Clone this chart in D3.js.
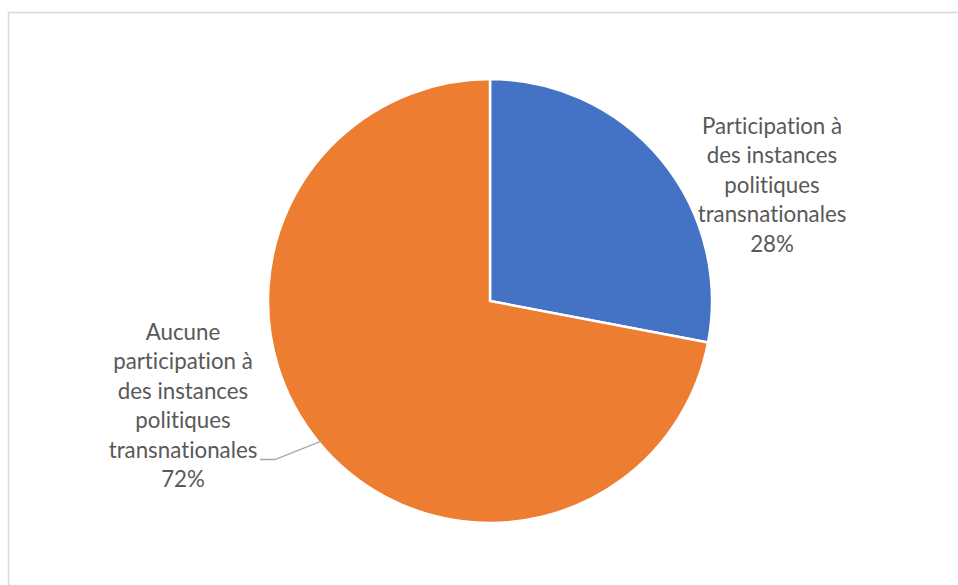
<!DOCTYPE html>
<html>
<head>
<meta charset="utf-8">
<script src="https://cdn.jsdelivr.net/npm/d3@7"></script>
<style>
  html, body { margin: 0; padding: 0; background: #fff; }
  svg { display: block; }
  text { font-variant-ligatures: none; }
</style>
</head>
<body>
<svg id="chart" width="958" height="585"></svg>
<script>
// Slices, in drawing order (clockwise from 12 o'clock)
const categories = [
  "Participation à des instances politiques transnationales",
  "Aucune participation à des instances politiques transnationales"
];
const values = [28, 72];
const colors = ["#4472C4", "#ED7D31"];
// Label lines for each slice (category wrapped, then percentage)
const labelLines = [
  ["Participation à", "des instances", "politiques", "transnationales", "28%"],
  ["Aucune", "participation à", "des instances", "politiques", "transnationales", "72%"]
];

const svg = d3.select("#chart");

// Chart area frame
svg.append("rect")
  .attr("x", 8.5).attr("y", 12.5)
  .attr("width", 1000).attr("height", 1000)
  .attr("fill", "#fff")
  .attr("stroke", "#d9d9d9")
  .attr("stroke-width", 1.5);

const cx = 490, cy = 301, R = 222;

const pie = d3.pie().sort(null).value(d => d)(values);
const arc = d3.arc().innerRadius(0).outerRadius(R);

const g = svg.append("g").attr("transform", `translate(${cx},${cy})`);

g.selectAll("path.slice")
  .data(pie)
  .join("path")
  .attr("class", "slice")
  .attr("d", arc)
  .attr("fill", (d, i) => colors[i])
  .attr("stroke", "#fff")
  .attr("stroke-width", 2.5)
  .attr("stroke-linejoin", "miter");

// Label placement (centre x, first baseline) and line spacing
const labelPos = [
  { x: 772, y: 134 },
  { x: 183, y: 340 }
];
const lineH = 29.4;

const fontFamily = "Lato, 'Open Sans', 'Noto Sans', sans-serif";

labelLines.forEach((lines, i) => {
  const t = svg.append("text")
    .attr("text-anchor", "middle")
    .attr("font-family", fontFamily)
    .attr("font-size", 22.3)
    .attr("fill", "#595959");
  lines.forEach((ln, k) => {
    t.append("tspan")
      .attr("x", labelPos[i].x)
      .attr("y", labelPos[i].y + k * lineH)
      .text(ln);
  });
});

// Leader line from the orange label to its slice edge
const edgeAngle = Math.atan2(445 - cy, 317 - cx);
const ex = cx + R * Math.cos(edgeAngle) * 0.985;
const ey = cy + R * Math.sin(edgeAngle) * 0.985;
svg.append("polyline")
  .attr("points", `260,459.5 275,459.5 ${ex},${ey}`)
  .attr("fill", "none")
  .attr("stroke", "#a6a6a6")
  .attr("stroke-width", 1.3);
</script>
</body>
</html>
